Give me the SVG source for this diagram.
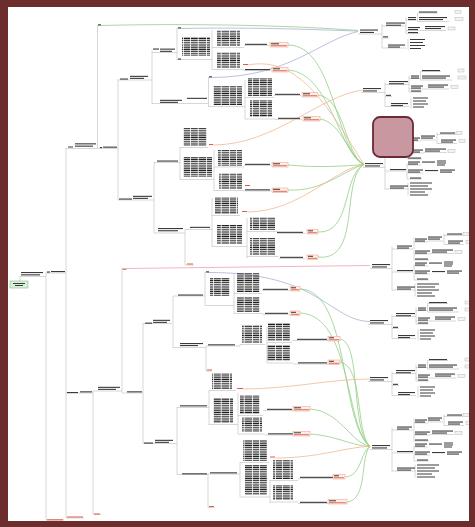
<svg xmlns="http://www.w3.org/2000/svg" width="475" height="527" viewBox="0 0 475 527">
<defs>
<pattern id="tx" width="23" height="2.2" patternUnits="userSpaceOnUse"><rect x="0" y="0.4" width="6" height="1.2" fill="#222"/><rect x="6.8" y="0.4" width="7" height="1.2" fill="#222"/><rect x="14.6" y="0.4" width="7.6" height="1.2" fill="#222"/></pattern>
<style>
.k{fill:#3a3a3a}
.bk{fill:url(#tx)}
.ln{fill:none;stroke:#c6c6c6;stroke-width:.7}
.rd{fill:#e05a4a}
.rb{fill:#fdf1ea;stroke:#ef9a80;stroke-width:.5}
.bx{fill:#f3f3f3;stroke:#a8a8a8;stroke-width:.4}
.g{fill:none;stroke:#93cf86;stroke-width:.8}
.o{fill:none;stroke:#f2b98f;stroke-width:.8}
.b{fill:none;stroke:#a8b2d4;stroke-width:.8}
.p{fill:none;stroke:#eba3ae;stroke-width:.8}
</style>
<g id="T1">
<path class="ln" d="M-2,3H22M22,-7V17M22,-5H46M46,-14V2.5M46,-11H57M57.5,-18V-9.5M57.5,-18H78M57.5,-9.5H89M46,-0.5H61M61,-0.5H86M46,2.5H59M22,7H29M22,17H46M48,8V19"/>
<rect class="k" x="0" y="-1.5" width="18" height="1.1"/><rect class="k" x="0" y="0.9" width="14" height="1.1"/>
<rect class="k" x="26" y="-8.5" width="19" height="1.1"/><rect class="k" x="26" y="-6.3" width="15" height="1.1"/>
<rect class="k" x="48" y="-14" width="8" height="1.1"/><rect class="k" x="48" y="-12" width="8" height="1.1"/>
<rect class="k" x="59" y="-19.5" width="18" height="1.1"/>
<rect class="k" x="59" y="-14" width="28" height="1.1"/><rect class="k" x="59" y="-12" width="24" height="1.1"/>
<rect class="bx" x="95" y="-20.5" width="6" height="3"/><rect class="bx" x="95" y="-13.5" width="8" height="3"/>
<rect class="k" x="48" y="-4" width="12" height="1.1"/><rect class="k" x="48" y="-2" width="10" height="1.1"/>
<rect class="k" x="65" y="-5" width="20" height="1.1"/><rect class="k" x="65" y="-3" width="16" height="1.1"/>
<rect class="bx" x="88" y="-4" width="7" height="3"/>
<rect class="k" x="48" y="1" width="10" height="1.1"/>
<rect class="k" x="23" y="5.3" width="5" height="1.1"/>
<rect class="k" x="28" y="13.5" width="17" height="1.1"/><rect class="k" x="28" y="15.5" width="12" height="1.1"/>
<rect class="k" x="50" y="8" width="15" height="1"/><rect class="k" x="50" y="11" width="13" height="1"/><rect class="k" x="50" y="14" width="15" height="1"/><rect class="k" x="50" y="17" width="11" height="1"/>
</g>
<g id="T2">
<path class="ln" d="M-2,3H20M20,-19V25M20,-16.5H41M42,-28V-5.5M42,-23.5H56M56,-24.5H71M72,-32V-21M72,-30H91M72,-21H92M42,-11.5H59M59,-12H82M42,-5.5H57M20,6.5H41M42,-1V14.5M42,0.5H56M42,8.5H58M42,14.5H57M20,24.5H44M43,18V31"/>
<rect class="k" x="0" y="-1.5" width="18" height="1.1"/><rect class="k" x="0" y="0.9" width="15" height="1.1"/>
<rect class="k" x="25" y="-20" width="15" height="1.1"/><rect class="k" x="25" y="-18" width="12" height="1.1"/>
<rect class="k" x="43" y="-27" width="12" height="1.1"/><rect class="k" x="43" y="-25" width="10" height="1.1"/>
<rect class="k" x="56" y="-29" width="14" height="1.1"/><rect class="k" x="56" y="-27" width="12" height="1.1"/>
<rect class="k" x="75" y="-32" width="15" height="1.1"/><rect class="bx" x="91" y="-33" width="6" height="3"/>
<rect class="k" x="76" y="-25" width="15" height="1.1"/><rect class="k" x="76" y="-23" width="12" height="1.1"/><rect class="bx" x="94" y="-25" width="6" height="3"/>
<rect class="k" x="43" y="-15" width="15" height="1.1"/><rect class="k" x="43" y="-13" width="12" height="1.1"/>
<rect class="k" x="60" y="-16" width="21" height="1.1"/><rect class="k" x="60" y="-14" width="15" height="1.1"/><rect class="bx" x="83" y="-15" width="7" height="3"/>
<rect class="k" x="43" y="-7" width="13" height="1.1"/>
<rect class="k" x="25" y="4.5" width="16" height="1.1"/>
<rect class="k" x="43" y="-3" width="12" height="1.1"/><rect class="k" x="43" y="-1" width="10" height="1.1"/>
<rect class="k" x="57" y="-3" width="13" height="1.1"/>
<rect class="k" x="72" y="-4" width="9" height="1"/><rect class="k" x="72" y="-2" width="9" height="1"/><rect class="k" x="72" y="0" width="8" height="1"/>
<rect class="k" x="43" y="5" width="15" height="1.1"/><rect class="k" x="43" y="7" width="12" height="1.1"/>
<rect class="k" x="60" y="5.5" width="13" height="1.1"/>
<rect class="k" x="75" y="5" width="15" height="1.1"/><rect class="k" x="75" y="7" width="12" height="1.1"/>
<rect class="k" x="45" y="13" width="11" height="1.1"/>
<rect class="k" x="25" y="21" width="18" height="1.1"/><rect class="k" x="25" y="23" width="14" height="1.1"/>
<rect class="k" x="45" y="18" width="22" height="1"/><rect class="k" x="45" y="21" width="18" height="1"/><rect class="k" x="45" y="24" width="22" height="1"/><rect class="k" x="45" y="27" width="15" height="1"/><rect class="k" x="45" y="30" width="18" height="1"/>
</g>
</defs>
<rect x="0" y="0" width="475" height="527" fill="#ffffff"/>

<g id="connectors">
<path class="ln" d="M20,281V276.5H46M46,272V520M46,273H66M46,520H64M66,148V518M66,148.5H97M66,393H93M66,518H84
M97.5,25V148.5M97.5,25.5H101M97.5,148.5H118M118,79V200M118,80H152M152,50V104M152,52.5H177M152,103.5H208.5
M177,28V60M177,28.5H181M177,59.5H212M212,30V70M212,47.5H244M244,45.5H269M212,69.5H244M244,70.5H271
M208.5,77V107M208.5,77.5H212M208.5,106.5H245M245,80V119M245,97.5H274M274,95.5H301M245,119H275M275,119.5H302
M118,200H154M154,162V233M154,162.5H180M154,233H185M185,229.5H212M180,147V180M180,147.5H208M180,179.5H214
M214,150V191M214,167H244M244,165.5H271M214,190.5H244M244,191H271M185,229.5V265M185,265H194
M212,198V247M212,215.5H240M212,246.5H247M247,218V258M247,231.5H277M277,233.5H305M247,256.5H279M279,258.5H305
M93,391V514.5M93,514.5H101M93,391H122M122,268V393M122,268.5H126M122,393H143
M143,323V443.5M143,323.5H172M143,443.5H177M173,296V348M173,296H205M173,347.5H206M206,346H240
M205,272V305.5M205,272.5H209M205,305.5H234M234,273V313.5M234,293.5H262M262,290.5H289M234,313.5H263M263,314.5H289
M206,346V371M206,371H212M240,344.5V346M240,344.5H265M267,327V363M267,342.5H292M292,340.5H328M267,363H293M293,364H328
M177,407V474.5M177,407.5H209M177,474.5H208M208,474H240M209,390V425M209,390.5H236M209,424.5H238
M238,393V434M238,415.5H263M263,410.5H293M238,434H265M265,435H294M208,474V507.5M208,507.5H215
M240,462V497M240,462.5H269M240,497H270M270,480V503M270,480.5H298M298,478.5H334M270,502H298M298,503.5H328"/>
<path class="g" d="M101,25.5C200,23 300,26 358,30.5"/>
<path class="b" d="M181,28.5C260,27 320,30 358,31M212,77.5C290,77 320,40 358,31.5M208,272.5C320,272 330,321 370,321.5"/>
<path class="p" d="M126,268.5L370,265.5"/>
<path class="g" d="M288,45C335,45 335,150 364,164.5M288,70C330,72 340,155 364,164.5M318,95C345,98 345,155 364,164.5M320,119C342,122 350,160 364,164.5M288,165C320,168 345,166 364,164.5M288,190C322,192 345,170 364,164.5M318,232C352,234 342,175 364,164.5M318,257C362,262 340,180 364,164.5"/>
<path class="g" d="M300,289C350,290 340,425 370,446.5M300,313C352,315 345,428 370,446.5M340,339C362,342 350,430 370,446.5M340,362C364,366 355,432 370,446.5M310,409C340,411 350,442 370,446.5M310,434C338,436 352,446 370,446.5M345,477C362,476 360,452 370,446.5M347,502C368,500 360,456 370,446.5"/>
<path class="o" d="M213,145C275,145 320,95 363,90M247,212C300,212 335,168 364,164.5M248,65C300,55 330,110 364,164.5M243,389C290,389 330,379 370,379M275,458C320,458 345,447 370,446.5"/>
</g>

<g id="root"><rect x="10" y="281" width="18" height="7" fill="#dcefdc" stroke="#7fbf7f" stroke-width=".6"/><rect class="k" x="13" y="283" width="12" height="1"/><rect class="k" x="15" y="285" width="8" height="1"/>
<rect class="k" x="21" y="272" width="22" height="1.1"/><rect class="k" x="21" y="274.3" width="19" height="1.1"/></g>
<g id="n-main"><rect class="k" x="47" y="271.5" width="3" height="1.1"/><rect class="k" x="51" y="271" width="14" height="1.1"/>
<rect class="rd" x="47" y="519.3" width="16" height="1"/><rect class="rd" x="67" y="516.5" width="16" height="1"/></g>
<g id="n-upper"><rect class="k" x="75" y="143.3" width="21" height="1.1"/><rect class="k" x="75" y="145.6" width="18" height="1.1"/><rect class="k" x="68" y="146.5" width="5" height="1"/>
<rect class="k" x="98" y="24.3" width="3" height="1.1"/><rect class="k" x="100" y="147" width="2" height="1.1"/><rect class="k" x="103" y="146.6" width="14" height="1.1"/></g>
<g id="n-a"><rect class="k" x="120" y="78.5" width="8" height="1.1"/><rect class="k" x="130" y="75.8" width="18" height="1.1"/><rect class="k" x="130" y="77.8" width="14" height="1.1"/>
<rect class="k" x="153" y="48.5" width="6" height="1.1"/><rect class="k" x="160" y="48.6" width="15" height="1.1"/><rect class="k" x="160" y="50.8" width="12" height="1.1"/>
<rect class="k" x="178" y="27.3" width="3" height="1.1"/><rect class="k" x="178" y="58.5" width="3" height="1.1"/>
<rect class="bk" x="182" y="37" width="28" height="19"/><rect class="bk" x="217" y="30" width="23" height="16"/><rect class="bk" x="217" y="52" width="23" height="16"/>
<rect class="k" x="245" y="43.8" width="22" height="1.1"/><rect class="k" x="245" y="69" width="25" height="1.1"/><rect class="rd" x="243" y="64" width="5" height="1"/>
<rect class="k" x="209" y="76.3" width="3" height="1.1"/><rect class="k" x="160" y="99.8" width="22" height="1.1"/><rect class="k" x="160" y="101.8" width="18" height="1.1"/><rect class="k" x="187" y="97.8" width="20" height="1.1"/>
<rect class="bk" x="213" y="86" width="29" height="19"/><rect class="bk" x="248" y="78" width="24" height="18"/><rect class="bk" x="250" y="100" width="22" height="17"/>
<rect class="k" x="275" y="93.8" width="25" height="1.1"/><rect class="k" x="278" y="117.8" width="22" height="1.1"/></g>
<g id="n-b"><rect class="k" x="119" y="198.5" width="13" height="1.1"/><rect class="k" x="133" y="195.8" width="19" height="1.1"/><rect class="k" x="133" y="197.8" width="15" height="1.1"/>
<rect class="k" x="157" y="160.5" width="21" height="1.1"/>
<rect class="bk" x="183" y="128" width="24" height="18"/><rect class="rd" x="209" y="144" width="4" height="1"/>
<rect class="bk" x="183" y="157" width="29" height="20"/><rect class="bk" x="218" y="150" width="24" height="16"/><rect class="bk" x="219" y="173" width="23" height="16"/>
<rect class="k" x="245" y="163.8" width="25" height="1.1"/><rect class="k" x="245" y="189.3" width="25" height="1.1"/><rect class="rd" x="245" y="185" width="5" height="1"/>
<rect class="k" x="158" y="228" width="25" height="1.1"/><rect class="k" x="158" y="230.2" width="20" height="1.1"/><rect class="k" x="190" y="226.8" width="20" height="1.1"/>
<rect class="rd" x="187" y="263.5" width="6" height="1"/>
<rect class="bk" x="215" y="197" width="23" height="17"/><rect class="rd" x="242" y="211" width="5" height="1"/>
<rect class="bk" x="217" y="225" width="25" height="19"/><rect class="bk" x="250" y="217" width="25" height="13"/><rect class="bk" x="250" y="238" width="25" height="17"/>
<rect class="k" x="277" y="231.8" width="26" height="1.1"/><rect class="k" x="280" y="256.8" width="23" height="1.1"/></g>
<g id="n-upper-labels">
<rect class="rb" x="270" y="42.5" width="18" height="4.5"/><rect class="k" x="271" y="43.3" width="8" height="1"/><rect class="rd" x="271" y="45.3" width="16" height=".9"/>
<rect class="rb" x="272" y="67.5" width="16" height="4.5"/><rect class="k" x="273" y="68.3" width="7" height="1"/><rect class="rd" x="273" y="70.3" width="14" height=".9"/>
<rect class="rb" x="302" y="92.5" width="16" height="4.5"/><rect class="k" x="303" y="93.3" width="7" height="1"/><rect class="rd" x="303" y="95.3" width="14" height=".9"/>
<rect class="rb" x="303" y="116.5" width="17" height="4.5"/><rect class="k" x="304" y="117.3" width="7" height="1"/><rect class="rd" x="304" y="119.3" width="15" height=".9"/>
<rect class="rb" x="272" y="162.5" width="16" height="4.5"/><rect class="k" x="273" y="163.3" width="7" height="1"/><rect class="rd" x="273" y="165.3" width="14" height=".9"/>
<rect class="rb" x="272" y="188" width="16" height="4.5"/><rect class="k" x="273" y="188.8" width="7" height="1"/><rect class="rd" x="273" y="190.8" width="14" height=".9"/>
<rect class="rb" x="307" y="229.5" width="11" height="4.5"/><rect class="k" x="308" y="230.3" width="5" height="1"/><rect class="rd" x="308" y="232.3" width="9" height=".9"/>
<rect class="rb" x="307" y="255" width="11" height="4.5"/><rect class="k" x="308" y="255.8" width="5" height="1"/><rect class="rd" x="308" y="257.8" width="9" height=".9"/></g>
<g id="n-lower"><rect class="k" x="67" y="392" width="11" height="1.1"/><rect class="k" x="80" y="391.3" width="12" height="1.1"/><rect class="rd" x="94" y="513.5" width="6" height="1"/>
<rect class="k" x="98" y="386.8" width="22" height="1.1"/><rect class="k" x="98" y="388.8" width="18" height="1.1"/><rect class="rd" x="122.5" y="268.8" width="4" height="1"/><rect class="k" x="127" y="391.3" width="15" height="1.1"/></g>
<g id="n-c1"><rect class="k" x="145" y="322.6" width="7" height="1.1"/><rect class="k" x="153" y="319.8" width="17" height="1.1"/><rect class="k" x="153" y="321.8" width="14" height="1.1"/>
<rect class="k" x="178" y="294.5" width="25" height="1.1"/><rect class="k" x="206" y="271.3" width="3" height="1.1"/>
<rect class="bk" x="210" y="278" width="20" height="18"/><rect class="bk" x="237" y="273" width="23" height="19"/><rect class="bk" x="237" y="297" width="23" height="15"/>
<rect class="k" x="263" y="288.8" width="25" height="1.1"/><rect class="k" x="265" y="312.8" width="23" height="1.1"/>
<rect class="k" x="180" y="343" width="23" height="1.1"/><rect class="k" x="180" y="345" width="18" height="1.1"/><rect class="k" x="208" y="344.3" width="27" height="1.1"/><rect class="rd" x="207" y="369.5" width="5" height="1"/>
<rect class="bk" x="242" y="325" width="20" height="18"/><rect class="bk" x="268" y="323" width="22" height="18"/><rect class="bk" x="267" y="345" width="23" height="16"/>
<rect class="k" x="297" y="338.8" width="30" height="1.1"/><rect class="k" x="298" y="362.3" width="29" height="1.1"/></g>
<g id="n-c2"><rect class="k" x="144" y="442.5" width="9" height="1.1"/><rect class="k" x="155" y="439.8" width="18" height="1.1"/><rect class="k" x="155" y="441.8" width="14" height="1.1"/>
<rect class="k" x="180" y="405.3" width="27" height="1.1"/>
<rect class="bk" x="212" y="373" width="20" height="16"/><rect class="rd" x="237" y="388" width="6" height="1"/>
<rect class="bk" x="213" y="398" width="20" height="25"/><rect class="bk" x="240" y="395" width="20" height="19"/><rect class="bk" x="242" y="417" width="20" height="15"/>
<rect class="k" x="267" y="408.8" width="25" height="1.1"/><rect class="k" x="268" y="433.3" width="25" height="1.1"/>
<rect class="k" x="182" y="473.3" width="25" height="1.1"/><rect class="k" x="210" y="472.3" width="27" height="1.1"/><rect class="rd" x="209" y="506" width="5" height="1"/>
<rect class="bk" x="243" y="440" width="24" height="21"/><rect class="rd" x="270" y="456.5" width="5" height="1"/>
<rect class="bk" x="245" y="465" width="22" height="30"/><rect class="bk" x="273" y="460" width="20" height="19"/><rect class="bk" x="273" y="485" width="20" height="15"/>
<rect class="k" x="300" y="476.8" width="33" height="1.1"/><rect class="k" x="300" y="501.8" width="27" height="1.1"/></g>
<g id="n-lower-labels">
<rect class="rb" x="290" y="286.5" width="10" height="4.5"/><rect class="k" x="291" y="287.3" width="5" height="1"/><rect class="rd" x="291" y="289.3" width="8" height=".9"/>
<rect class="rb" x="290" y="311" width="10" height="4.5"/><rect class="k" x="291" y="311.8" width="5" height="1"/><rect class="rd" x="291" y="313.8" width="8" height=".9"/>
<rect class="rb" x="328" y="336.5" width="12" height="4.5"/><rect class="k" x="329" y="337.3" width="5" height="1"/><rect class="rd" x="329" y="339.3" width="10" height=".9"/>
<rect class="rb" x="328" y="360" width="12" height="4.5"/><rect class="k" x="329" y="360.8" width="5" height="1"/><rect class="rd" x="329" y="362.8" width="10" height=".9"/>
<rect class="rb" x="293" y="406.5" width="17" height="4.5"/><rect class="k" x="294" y="407.3" width="7" height="1"/><rect class="rd" x="294" y="409.3" width="15" height=".9"/>
<rect class="rb" x="293" y="431.5" width="17" height="4.5"/><rect class="k" x="294" y="432.3" width="7" height="1"/><rect class="rd" x="294" y="434.3" width="15" height=".9"/>
<rect class="rb" x="333" y="474.5" width="12" height="4.5"/><rect class="k" x="334" y="475.3" width="5" height="1"/><rect class="rd" x="334" y="477.3" width="10" height=".9"/>
<rect class="rb" x="328" y="499.5" width="19" height="4.5"/><rect class="k" x="329" y="500.3" width="7" height="1"/><rect class="rd" x="329" y="502.3" width="17" height=".9"/></g>
<g id="s1"><use href="#T1" transform="translate(360,31)"/></g>
<g id="s2"><use href="#T1" transform="translate(363,89.5)"/></g>
<g id="s0"><use href="#T2" transform="translate(365,164.5)"/></g>
<g id="s3"><use href="#T2" transform="translate(372,265.5)"/></g>
<g id="s4"><use href="#T1" transform="translate(370,321.5)"/></g>
<g id="s5"><use href="#T1" transform="translate(370,378.5)"/></g>
<g id="s6"><use href="#T2" transform="translate(372,446.5)"/></g>
<g id="pink-box"><rect x="373" y="117" width="40" height="40" rx="7" fill="#c8979f" stroke="#6b2a35" stroke-width="1.8"/></g>
<path d="M0,0H475V527H0ZM8,7V521H469V7Z" fill="#6e2d2d" fill-rule="evenodd"/>
</svg>
